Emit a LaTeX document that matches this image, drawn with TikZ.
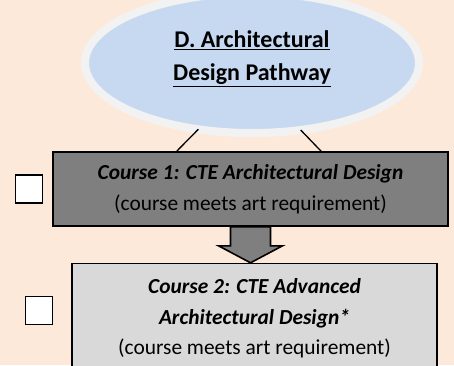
\documentclass[tikz,border=0pt]{standalone}
\usepackage{fontspec}
\setmainfont{Carlito}
\usetikzlibrary{positioning,shapes.geometric,calc}
\definecolor{peach}{HTML}{FDE9D9}
\definecolor{ellblue}{HTML}{C6D9F1}
\definecolor{ellrim}{HTML}{F2F2F2}
\definecolor{darkbox}{HTML}{7F7F7F}
\definecolor{lightbox}{HTML}{D9D9D9}

\begin{document}
\begin{tikzpicture}[x=1pt,y=-1pt,
txt/.style={font=\fontsize{21.4}{30.5}\selectfont,align=center},
box/.style={draw,rectangle,line width=1.6pt,inner sep=0pt,txt},
tick/.style={draw,rectangle,fill=white,line width=1.6pt,minimum width=27pt,minimum height=28pt,inner sep=0pt}]
\clip (0,0) rectangle (454,365);
\fill [peach] (0,0) rectangle (454,365);
\node (ell) [ellipse,draw=ellrim,fill=ellblue,line width=8pt,outer sep=0pt,
    minimum width=334pt,minimum height=140pt] at (252,63) {};
\node (ttl) [align=center,font=\fontsize{24}{33}\selectfont\bfseries]
    at ([yshift=4pt]ell.center) {\underline{D. Architectural}\\\underline{Design Pathway}};
\node (c1) [box,fill=darkbox,minimum width=395pt,minimum height=74pt] at (250.5,189)
    {\textbf{\textit{Course 1: CTE Architectural Design}}\\(course meets art requirement)};
\node (c2) [box,fill=lightbox,minimum width=365pt,minimum height=110pt,
    below=36pt of c1,xshift=4pt]
    {\textbf{\textit{Course 2: CTE Advanced}}\\\textbf{\textit{Architectural Design*}}\\(course meets art requirement)};
\node (cb1) [tick,left=9pt of c1] {};
\node (cb2) [tick,left=18pt of c2,yshift=8pt] {};
\draw [line width=1.3pt] (ell.231) -- ($(c1.north west)!0.314!(c1.north east)$);
\draw [line width=1.3pt] (ell.306) -- ($(c1.north west)!0.678!(c1.north east)$);
% block arrow between the two courses
\draw [fill=darkbox,line width=1.6pt] ([xshift=-20pt]c1.south) -- ++(0,19) -- ++(-12,0)
    -- ++(32,17) -- ++(32,-17) -- ++(-12,0) -- ++(0,-19) -- cycle;
\end{tikzpicture}
\end{document}
